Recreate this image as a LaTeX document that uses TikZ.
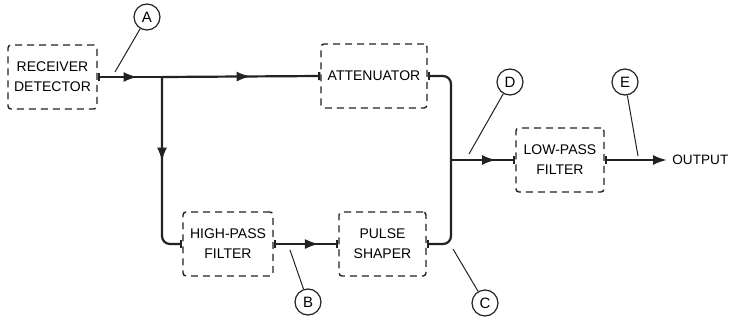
\documentclass[tikz,border=0pt]{standalone}
\usepackage{fontspec}
\setmainfont{Liberation Sans}
\usepackage{xcolor}
\definecolor{inkBlack}{HTML}{222222}
\usepackage{tikz}
\usetikzlibrary{arrows.meta, positioning, calc, decorations.markings}

\begin{document}
\begin{tikzpicture}[
    x=0.5pt, y=-0.5pt,
    >=Latex,
    blockBox/.style={
        rectangle,
        rounded corners=1.5pt,
        draw=inkBlack,
        dash pattern=on 3.5pt off 2.5pt,
        line width=0.7pt,
        minimum height=32pt,
        inner sep=2pt,
        align=center,
        font=\fontsize{7}{10}\selectfont
    },
    flowLine/.style={
        line width=1.1pt,
        color=inkBlack,
        rounded corners=4pt
    },
    midArrow/.style={
        postaction={decorate},
        decoration={markings,
            mark=at position #1 with {\arrow{Latex[length=7pt,width=5pt]}}}
    },
    tapCircle/.style={
        circle,
        draw=inkBlack,
        line width=0.6pt,
        minimum size=13pt,
        inner sep=0pt,
        font=\fontsize{7.5}{8}\selectfont
    },
    tapLine/.style={
        line width=0.5pt,
        color=inkBlack
    }
]
\useasboundingbox (0,0) rectangle (729,322);

% Blocks
\node[blockBox, minimum width=44.5pt] (rx) at (52.5,77) {RECEIVER\\DETECTOR};
\node[blockBox, minimum width=53pt] (att) at (374,76) {ATTENUATOR};
\node[blockBox, minimum width=45pt] (hpf) at (228,244) {HIGH-PASS\\FILTER};
\node[blockBox, minimum width=43.5pt] (ps) at (382.5,244) {PULSE\\SHAPER};
\node[blockBox, minimum width=44pt] (lpf) at (560,160) {LOW-PASS\\FILTER};

% Junctions
\coordinate (split) at (162,77);
\coordinate (merge) at (451,160);
\coordinate (outEnd) at (667,160);
\node[anchor=west, inner sep=0pt, font=\fontsize{6.8}{8}\selectfont] (outText) at (672,160) {OUTPUT};

% Signal path
\draw[flowLine, midArrow=0.62, {Bar[width=4pt]}-] (rx.east) -- (split);
\draw[flowLine, midArrow=0.56, -{Bar[width=4pt]}] (split) -- (att.west);
\draw[flowLine, midArrow=0.46, -{Bar[width=4pt]}] (split) |- (hpf.west);
\draw[flowLine, midArrow=0.7, {Bar[width=4pt]}-{Bar[width=4pt]}] (hpf.east) -- (ps.west);
\draw[flowLine, {Bar[width=4pt]}-] (att.east) -| (merge);
\draw[flowLine, {Bar[width=4pt]}-] (ps.east) -| (merge);
\draw[flowLine, midArrow=0.7, -{Bar[width=4pt]}] (merge) -- (lpf.west);
\draw[flowLine, {Bar[width=4pt]}-{Latex[length=7pt,width=5pt]}] (lpf.east) -- (outEnd);

% Test points
\node[tapCircle] (labA) at (147,17) {A};
\node[tapCircle] (labB) at (308,302) {B};
\node[tapCircle] (labC) at (485,303) {C};
\node[tapCircle] (labD) at (510,82) {D};
\node[tapCircle] (labE) at (625,82) {E};

\coordinate (tapA) at (115,72);
\coordinate (tapB) at (290,250);
\coordinate (tapC) at (453,249);
\coordinate (tapD) at (469,154);
\coordinate (tapE) at (638,156);

\draw[tapLine] (labA) -- (tapA);
\draw[tapLine] (labB) -- (tapB);
\draw[tapLine] (labC) -- (tapC);
\draw[tapLine] (labD) -- (tapD);
\draw[tapLine] (labE) -- (tapE);

\end{tikzpicture}
\end{document}
